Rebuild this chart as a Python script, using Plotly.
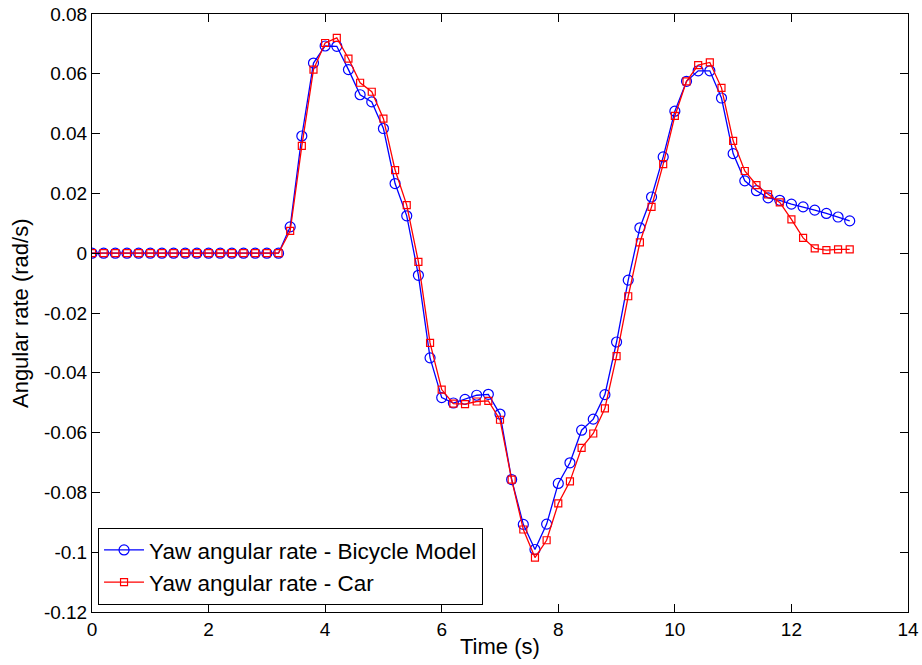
import plotly.graph_objects as go

time_s = [round(i * 0.2, 1) for i in range(66)]

bicycle = [0.0] * 17 + [
    0.0088, 0.0392, 0.0636, 0.0693, 0.0692, 0.0614, 0.0530, 0.0506, 0.0417, 0.0233,
    0.0125, -0.0074, -0.0350, -0.0483, -0.0501, -0.0489, -0.0475, -0.0472, -0.0538, -0.0757,
    -0.0907, -0.0991, -0.0906, -0.0770, -0.0701, -0.0592, -0.0555, -0.0473, -0.0297, -0.0090,
    0.0085, 0.0188, 0.0322, 0.0475, 0.0575, 0.0610, 0.0610, 0.0519, 0.0333, 0.0242,
    0.0209, 0.0185, 0.0177, 0.0164, 0.0155, 0.0144, 0.0133, 0.0121, 0.0108,
]

car = [0.0] * 17 + [
    0.0075, 0.0359, 0.0614, 0.0703, 0.0720, 0.0651, 0.0570, 0.0540, 0.0450, 0.0278,
    0.0161, -0.0029, -0.0300, -0.0456, -0.0503, -0.0505, -0.0496, -0.0494, -0.0557, -0.0757,
    -0.0924, -0.1018, -0.0960, -0.0837, -0.0763, -0.0651, -0.0603, -0.0519, -0.0344, -0.0144,
    0.0036, 0.0155, 0.0298, 0.0459, 0.0575, 0.0629, 0.0638, 0.0553, 0.0376, 0.0275,
    0.0228, 0.0197, 0.0170, 0.0113, 0.0051, 0.0016, 0.0010, 0.0013, 0.0013,
]

x_ticks = [0, 2, 4, 6, 8, 10, 12, 14]
x_ticklabels = ["0", "2", "4", "6", "8", "10", "12", "14"]
y_ticks = [0.08, 0.06, 0.04, 0.02, 0, -0.02, -0.04, -0.06, -0.08, -0.1, -0.12]
y_ticklabels = ["0.08", "0.06", "0.04", "0.02", "0", "-0.02", "-0.04", "-0.06", "-0.08", "-0.1", "-0.12"]

FONT = "Liberation Sans, Arial, sans-serif"

fig = go.Figure()
fig.add_trace(go.Scatter(
    x=time_s, y=bicycle, mode="lines+markers",
    name="Yaw angular rate - Bicycle Model",
    line=dict(color="rgb(0,0,255)", width=1.3),
    marker=dict(symbol="circle-open", size=10, color="rgb(0,0,255)", line=dict(width=1.2)),
))
fig.add_trace(go.Scatter(
    x=time_s, y=car, mode="lines+markers",
    name="Yaw angular rate - Car",
    line=dict(color="rgb(255,0,0)", width=1.3),
    marker=dict(symbol="square-open", size=7, color="rgb(255,0,0)", line=dict(width=1.2)),
))

axis_common = dict(
    showgrid=False, zeroline=False, showline=True, linecolor="black", linewidth=1,
    mirror="ticks", ticks="inside", ticklen=8, tickcolor="black", tickwidth=1,
    tickfont=dict(family=FONT, size=19, color="black"), automargin=False,
)

fig.update_layout(
    width=922, height=665,
    margin=dict(l=92, r=14, t=14, b=53),
    paper_bgcolor="white", plot_bgcolor="white",
    showlegend=True,
    legend=dict(
        x=0.0074, y=0.012, xanchor="left", yanchor="bottom",
        bgcolor="white", bordercolor="black", borderwidth=1,
        font=dict(family=FONT, size=22.5, color="black"),
        tracegroupgap=0, itemwidth=40,
    ),
    xaxis=dict(range=[0, 14], tickvals=x_ticks, ticktext=x_ticklabels, **axis_common),
    yaxis=dict(range=[-0.12, 0.08], tickvals=y_ticks, ticktext=y_ticklabels, **axis_common),
    annotations=[
        dict(text="Time (s)", xref="paper", yref="paper", x=0.5, y=-0.0585,
             xanchor="center", yanchor="middle", showarrow=False,
             font=dict(family=FONT, size=22, color="black")),
        dict(text="Angular rate (rad/s)", xref="paper", yref="paper", x=-0.0882, y=0.5,
             xanchor="center", yanchor="middle", showarrow=False, textangle=-90,
             font=dict(family=FONT, size=22, color="black")),
    ],
)

fig.write_html("out.html")
